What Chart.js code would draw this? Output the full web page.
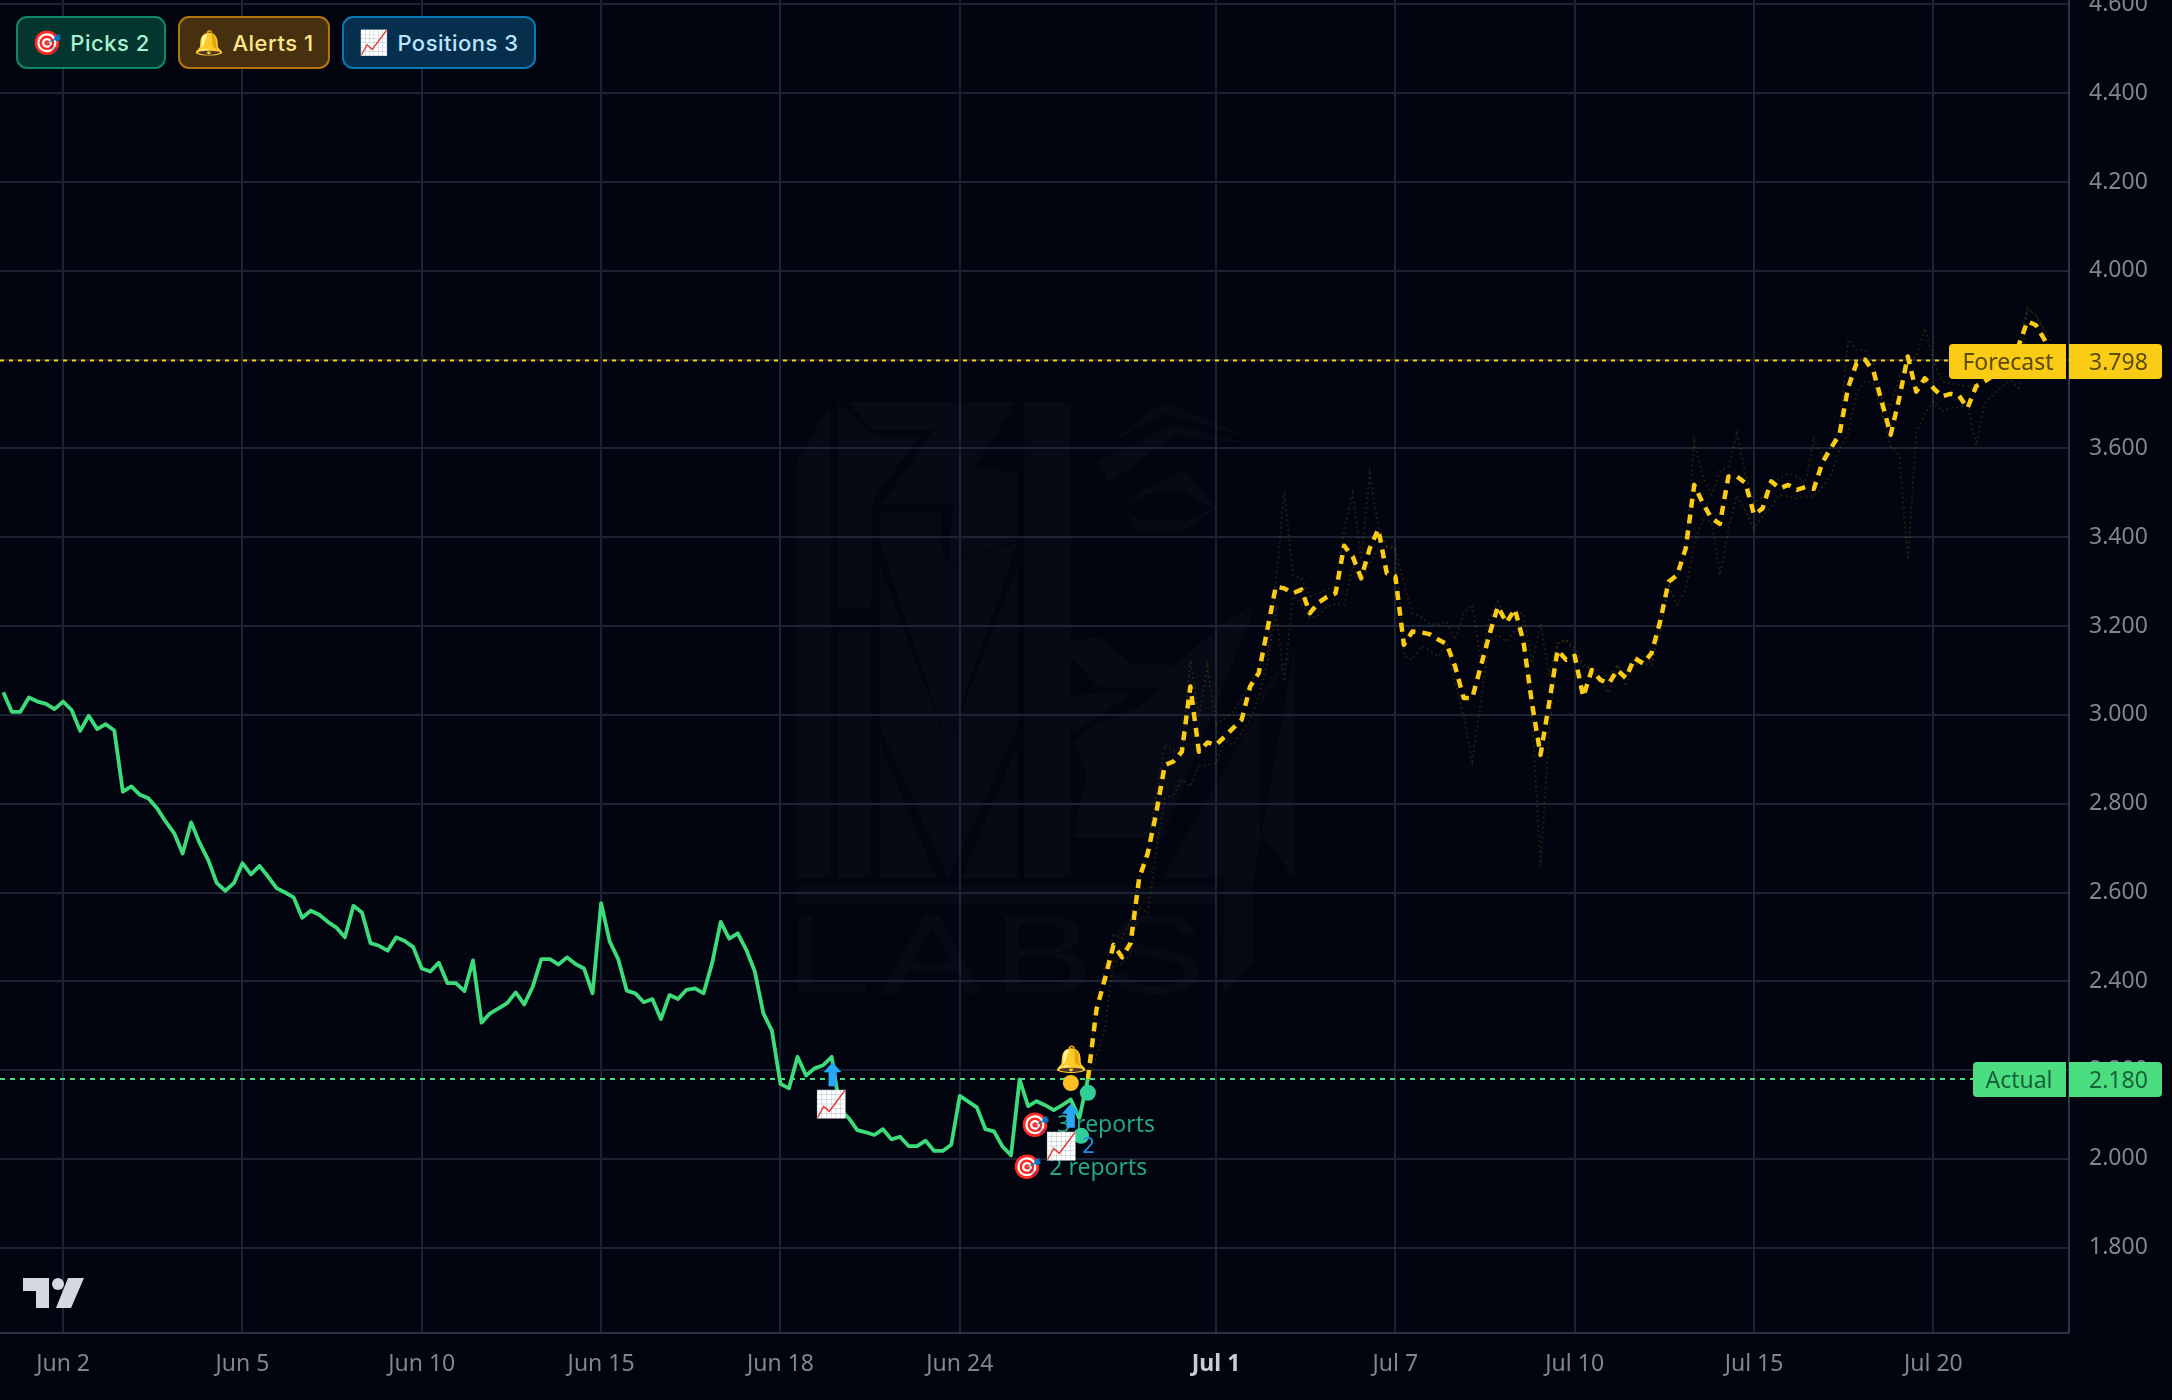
<!DOCTYPE html>
<html>
<head>
<meta charset="utf-8">
<title>Forecast chart</title>
<script src="https://cdn.jsdelivr.net/npm/chart.js@4/dist/chart.umd.min.js"></script>
<style>
    html, body { margin: 0; background: #020510; overflow: hidden; }
    #wrap { position: relative; width: 2172px; height: 1400px; }
    canvas { display: block; }
    .badge {
        position: absolute; top: 16px; height: 53px; box-sizing: border-box;
        border: 2px solid; border-radius: 11px;
        display: flex; align-items: center; justify-content: center; gap: 8px;
        font: 500 22px Inter, "Noto Sans", sans-serif; letter-spacing: 0.5px;
    }
    #badge-picks { left: 16px; width: 150px; background: #05352f; border-color: #0c8a62; color: #a7f3d0; }
    #badge-alerts { left: 178px; width: 152px; background: #47300f; border-color: #b4740f; color: #fde68a; }
    #badge-positions { left: 342px; width: 194px; background: #062f4e; border-color: #0a78b4; color: #bae6fd; }
    .badge span:first-child { font-size: 24px; letter-spacing: 0; }
</style>
</head>
<body>
<div id="wrap">
    <canvas id="chart" width="2172" height="1400"></canvas>
    <div class="badge" id="badge-picks"><span>🎯</span><span>Picks 2</span></div>
    <div class="badge" id="badge-alerts"><span>🔔</span><span>Alerts 1</span></div>
    <div class="badge" id="badge-positions"><span>📈</span><span>Positions 3</span></div>
</div>
<script>
// Price history, one value per bar
const actualValues = [
    3.051, 3.007, 3.007, 3.039, 3.030, 3.025, 3.013, 3.030, 3.011, 2.964,
    2.998, 2.968, 2.979, 2.965, 2.827, 2.839, 2.820, 2.812, 2.790, 2.760,
    2.734, 2.688, 2.758, 2.711, 2.673, 2.621, 2.604, 2.621, 2.666, 2.641,
    2.660, 2.636, 2.610, 2.600, 2.589, 2.543, 2.559, 2.550, 2.534, 2.521,
    2.499, 2.570, 2.555, 2.486, 2.480, 2.469, 2.499, 2.491, 2.477, 2.429,
    2.422, 2.442, 2.396, 2.396, 2.378, 2.447, 2.307, 2.328, 2.339, 2.351,
    2.375, 2.348, 2.388, 2.450, 2.450, 2.438, 2.454, 2.439, 2.429, 2.373,
    2.576, 2.490, 2.450, 2.379, 2.373, 2.353, 2.360, 2.315, 2.369, 2.360,
    2.381, 2.384, 2.373, 2.441, 2.534, 2.496, 2.508, 2.471, 2.422, 2.328,
    2.289, 2.169, 2.159, 2.230, 2.188, 2.204, 2.211, 2.230, 2.110, 2.092,
    2.065, 2.060, 2.054, 2.067, 2.044, 2.050, 2.029, 2.029, 2.041, 2.018,
    2.018, 2.032, 2.142, 2.129, 2.116, 2.067, 2.062, 2.028, 2.008, 2.179,
    2.119, 2.130, 2.121, 2.110, 2.121, 2.134, 2.092, 2.180
];

// Forecast starts on the last actual bar
const forecastStart = 127;
const forecastValues = [
    2.180, 2.336, 2.406, 2.482, 2.454, 2.486, 2.632, 2.688, 2.779, 2.887,
    2.895, 2.917, 3.064, 2.917, 2.938, 2.932, 2.951, 2.970, 2.989, 3.064,
    3.094, 3.191, 3.289, 3.285, 3.274, 3.282, 3.229, 3.253, 3.266, 3.274,
    3.381, 3.357, 3.308, 3.375, 3.418, 3.319, 3.312, 3.158, 3.188, 3.186,
    3.182, 3.170, 3.160, 3.109, 3.038, 3.038, 3.109, 3.180, 3.244, 3.208,
    3.238, 3.165, 3.026, 2.910, 3.026, 3.146, 3.124, 3.133, 3.041, 3.101,
    3.079, 3.071, 3.101, 3.083, 3.128, 3.116, 3.139, 3.210, 3.300, 3.315,
    3.375, 3.518, 3.477, 3.443, 3.430, 3.537, 3.537, 3.522, 3.451, 3.465,
    3.526, 3.510, 3.518, 3.507, 3.513, 3.509, 3.568, 3.601, 3.631, 3.736,
    3.792, 3.800, 3.773, 3.702, 3.631, 3.713, 3.807, 3.728, 3.758, 3.736,
    3.717, 3.723, 3.719, 3.691, 3.740, 3.751, 3.764, 3.777, 3.788, 3.833,
    3.886, 3.878, 3.845, 3.798
];
const forecastUpper = [
    2.180, 2.351, 2.433, 2.505, 2.497, 2.538, 2.628, 2.703, 2.816, 2.932,
    2.921, 2.906, 3.124, 2.996, 3.109, 2.977, 2.992, 3.007, 3.037, 3.071,
    3.109, 3.139, 3.297, 3.503, 3.315, 3.308, 3.267, 3.274, 3.282, 3.293,
    3.417, 3.499, 3.349, 3.544, 3.424, 3.379, 3.372, 3.297, 3.229, 3.221,
    3.206, 3.203, 3.210, 3.169, 3.229, 3.248, 3.124, 3.214, 3.255, 3.210,
    3.229, 3.229, 3.116, 3.206, 3.090, 3.161, 3.169, 3.139, 3.109, 3.109,
    3.098, 3.086, 3.112, 3.086, 3.131, 3.120, 3.120, 3.214, 3.289, 3.312,
    3.364, 3.616, 3.537, 3.496, 3.548, 3.559, 3.634, 3.541, 3.477, 3.492,
    3.518, 3.533, 3.544, 3.537, 3.522, 3.619, 3.582, 3.604, 3.642, 3.845,
    3.822, 3.822, 3.792, 3.709, 3.694, 3.762, 3.800, 3.807, 3.871, 3.800,
    3.751, 3.747, 3.743, 3.740, 3.747, 3.755, 3.770, 3.790, 3.800, 3.830,
    3.916, 3.900, 3.870, 3.830
];
const forecastLower = [
    2.180, 2.230, 2.294, 2.448, 2.437, 2.463, 2.568, 2.553, 2.696, 2.812,
    2.820, 2.854, 2.839, 2.884, 2.887, 2.891, 2.944, 2.932, 2.959, 2.989,
    3.041, 3.116, 3.236, 3.075, 3.267, 3.252, 3.218, 3.225, 3.244, 3.250,
    3.248, 3.334, 3.297, 3.342, 3.375, 3.379, 3.379, 3.135, 3.124, 3.154,
    3.146, 3.131, 3.161, 3.071, 2.996, 2.895, 3.026, 3.169, 3.180, 3.165,
    3.191, 3.184, 2.996, 2.658, 2.959, 3.161, 3.169, 3.150, 3.116, 3.101,
    3.079, 3.049, 3.109, 3.064, 3.116, 3.113, 3.113, 3.184, 3.289, 3.248,
    3.281, 3.387, 3.439, 3.435, 3.315, 3.417, 3.495, 3.458, 3.420, 3.447,
    3.469, 3.495, 3.492, 3.488, 3.492, 3.492, 3.514, 3.541, 3.597, 3.634,
    3.724, 3.751, 3.747, 3.679, 3.604, 3.586, 3.349, 3.634, 3.679, 3.706,
    3.683, 3.691, 3.694, 3.698, 3.608, 3.702, 3.721, 3.739, 3.754, 3.736,
    3.912, 3.900, 3.860, 3.800
];

// Axis ticks
const xTickBars = [7, 28, 49, 70, 91, 112, 142, 163, 184, 205, 226];
const xTickLabels = ['Jun 2', 'Jun 5', 'Jun 10', 'Jun 15', 'Jun 18', 'Jun 24', 'Jul 1', 'Jul 7', 'Jul 10', 'Jul 15', 'Jul 20'];
const yTickValues = [1.8, 2.0, 2.2, 2.4, 2.6, 2.8, 3.0, 3.2, 3.4, 3.6, 3.8, 4.0, 4.2, 4.4, 4.6];

// Last prices shown as tags on the price axis
const actualLast = 2.180;
const forecastLast = 3.798;

// Event markers as [bar, price]
const arrowMarks = [[97.1, 2.191], [125, 2.097]];
const positionMarks = [[96.9, 2.124], [123.9, 2.029]];
const pickMarks = [[120.8, 2.079, '3 reports'], [119.9, 1.984, '2 reports']];
const alertBell = [125, 2.227];
const alertDot = [125, 2.171];
const pickDots = [[127, 2.149], [126.2, 2.052]];

const toPoints = (values, start) => values.map((y, i) => ({ x: start + i, y }));

// Faint logo sitting behind the grid, outlines in page pixels
const logoShapes = [
    [48,175, 148,35, 148,1215, 48,1215],
    [168,30, 270,110, 405,115, 270,275, 265,545, 168,545],
    [200,30, 685,30, 565,195, 690,205, 690,375, 487,435, 502,285, 295,285, 445,100, 270,100],
    [290,305, 468,305, 468,380, 487,435, 690,380, 525,790, 487,885, 290,380],
    [168,600, 265,600, 265,1215, 168,1215],
    [290,440, 487,885, 690,440, 690,840, 490,1215, 290,840],
    [290,880, 455,1215, 290,1215],
    [690,885, 690,1215, 525,1215],
    [710,30, 845,30, 845,1215, 710,1215],
    [925,175, 1140,85, 1370,135, 1145,115, 955,230],
    [950,135, 1115,30, 1370,120, 1115,60],
    [845,625, 925,615, 1020,680, 1150,685, 1260,600, 1380,530, 1145,740, 925,740, 845,665],
    [845,760, 1030,750, 860,850, 845,835],
    [850,1115, 890,955, 855,880, 905,835, 1040,790, 1380,540, 1110,1115],
    [1395,1100, 1495,1215, 1495,640, 1395,760],
    [1110,1215, 1495,640, 1375,1215],
    [48,1235, 1265,1235, 1265,1280, 48,1280],
    [1285,1510, 1375,1420, 1375,1215, 1290,1215]
];
const logoEyeOuter = [1000,295, 1070,240, 1175,200, 1270,295, 1170,350, 1040,355];
const logoEyeInner = [1000,298, 1060,260, 1170,250, 1255,295, 1175,325, 1050,325];

function traceLogoShape(ctx, s) {
    ctx.moveTo(780 + s[0] / 2.904, 390 + s[1] / 2.489);
    for (let i = 2; i < s.length; i += 2) {
        ctx.lineTo(780 + s[i] / 2.904, 390 + s[i + 1] / 2.489);
    }
    ctx.closePath();
}

const backdropPlugin = {
    id: 'backdrop',
    beforeDraw(chart) {
        const ctx = chart.ctx;
        ctx.save();
        ctx.fillStyle = '#020510';
        ctx.fillRect(0, 0, chart.width, chart.height);
        ctx.fillStyle = 'rgba(255,255,255,0.024)';
        // one path so overlapping pieces do not add up
        ctx.beginPath();
        logoShapes.forEach(s => traceLogoShape(ctx, s));
        ctx.fill();
        ctx.beginPath();
        traceLogoShape(ctx, logoEyeOuter);
        traceLogoShape(ctx, logoEyeInner);
        ctx.fill('evenodd');

        ctx.translate(786, 993);
        ctx.scale(1.35, 1);
        ctx.font = '400 112px "Liberation Sans", sans-serif';
        ctx.letterSpacing = '8px';
        ctx.textBaseline = 'alphabetic';
        ctx.fillText('LABS', 0, 0);
        ctx.restore();
    }
};

// Up arrow used for position events
function drawArrow(ctx, x, y) {
    ctx.fillStyle = '#29a9f5';
    ctx.beginPath();
    ctx.moveTo(x, y - 12);
    ctx.lineTo(x + 9, y - 2);
    ctx.lineTo(x + 4, y - 2);
    ctx.lineTo(x + 4, y + 12);
    ctx.lineTo(x - 4, y + 12);
    ctx.lineTo(x - 4, y - 2);
    ctx.lineTo(x - 9, y - 2);
    ctx.closePath();
    ctx.fill();
}

function drawDot(ctx, x, y, color) {
    ctx.fillStyle = color;
    ctx.beginPath();
    ctx.arc(x, y, 8, 0, Math.PI * 2);
    ctx.fill();
}

const markersPlugin = {
    id: 'markers',
    afterDatasetsDraw(chart) {
        const { ctx, scales: { x, y } } = chart;
        const px = m => [x.getPixelForValue(m[0]), y.getPixelForValue(m[1])];
        ctx.save();
        ctx.textBaseline = 'middle';
        ctx.textAlign = 'center';

        pickMarks.forEach(m => {
            const [mx, my] = px(m);
            ctx.font = '400 23px "Noto Sans", sans-serif';
            ctx.fillStyle = '#26a582';
            ctx.textAlign = 'left';
            ctx.fillText(m[2], mx + 22, my + 2);
            ctx.textAlign = 'center';
            ctx.font = '400 24px "Noto Sans", sans-serif';
            ctx.fillStyle = '#fff';
            ctx.fillText('🎯', mx, my + 2);
        });
        pickDots.forEach(m => { const [mx, my] = px(m); drawDot(ctx, mx, my, '#2fcf97'); });
        positionMarks.forEach((m, i) => {
            const [mx, my] = px(m);
            ctx.font = '400 26px "Noto Sans", sans-serif';
            ctx.fillStyle = '#fff';
            ctx.fillText('📈', mx, my + 2);
            if (i === 1) {
                ctx.font = '400 22px "Noto Sans", sans-serif';
                ctx.fillStyle = '#1d8fe0';
                ctx.fillText('2', mx + 27, my + 1);
            }
        });
        arrowMarks.forEach(m => { const [mx, my] = px(m); drawArrow(ctx, mx, my); });

        const [dx, dy] = px(alertDot);
        drawDot(ctx, dx, dy, '#fbbf24');
        const [bx, by] = px(alertBell);
        ctx.font = '400 26px "Noto Sans", sans-serif';
        ctx.fillStyle = '#fff';
        ctx.fillText('🔔', bx, by + 2);
        ctx.restore();
    }
};

function roundedTag(ctx, x, y, w, h, radii, color) {
    ctx.fillStyle = color;
    ctx.beginPath();
    ctx.roundRect(x, y, w, h, radii);
    ctx.fill();
}

// Name and price tags on the right edge, TradingView logo bottom left
const overlayPlugin = {
    id: 'overlay',
    afterDraw(chart) {
        const { ctx, scales: { y } } = chart;
        ctx.save();
        ctx.textBaseline = 'middle';
        const tags = [
            { name: 'Forecast', value: forecastLast, left: 1949, nameX: 2008, bg: '#facc15', fg: '#5c4b0c' },
            { name: 'Actual', value: actualLast, left: 1973, nameX: 2019, bg: '#4ade80', fg: '#17603a' }
        ];
        tags.forEach(t => {
            const py = Math.round(y.getPixelForValue(t.value));
            roundedTag(ctx, t.left, py - 17, 2066 - t.left, 35, [4, 0, 0, 4], t.bg);
            roundedTag(ctx, 2069, py - 17, 93, 35, [0, 4, 4, 0], t.bg);
            ctx.font = '400 23px "Noto Sans", sans-serif';
            ctx.fillStyle = t.fg;
            ctx.textAlign = 'center';
            ctx.fillText(t.name, t.nameX, py + 2);
            ctx.textAlign = 'left';
            ctx.fillText(t.value.toFixed(3), 2089, py + 2);
        });

        ctx.fillStyle = '#d5d8e3';
        ctx.beginPath();
        ctx.moveTo(23, 1278); ctx.lineTo(49, 1278); ctx.lineTo(49, 1308); ctx.lineTo(36, 1308);
        ctx.lineTo(36, 1291); ctx.lineTo(23, 1291);
        ctx.closePath();
        ctx.fill();
        ctx.beginPath();
        ctx.arc(58, 1284, 6, 0, Math.PI * 2);
        ctx.fill();
        ctx.beginPath();
        ctx.moveTo(68, 1278); ctx.lineTo(84, 1278); ctx.lineTo(71, 1308); ctx.lineTo(56, 1308);
        ctx.closePath();
        ctx.fill();
        ctx.restore();
    }
};

// Initialize Chart
function initChart() {
    const ctx = document.getElementById('chart').getContext('2d');
    const barMin = -0.386;
    const barMax = 241.88;
    new Chart(ctx, {
        type: 'line',
        data: {
            datasets: [
                {
                    label: 'Forecast upper',
                    data: toPoints(forecastUpper, forecastStart),
                    borderColor: 'rgba(250,204,21,0.13)',
                    borderWidth: 2,
                    borderDash: [2, 3]
                },
                {
                    label: 'Forecast lower',
                    data: toPoints(forecastLower, forecastStart),
                    borderColor: 'rgba(250,204,21,0.13)',
                    borderWidth: 2,
                    borderDash: [2, 3]
                },
                {
                    label: 'Actual last',
                    data: [{ x: barMin, y: actualLast }, { x: barMax, y: actualLast }],
                    borderColor: '#4ade80',
                    borderWidth: 2,
                    borderDash: [5, 5]
                },
                {
                    label: 'Forecast last',
                    data: [{ x: barMin, y: forecastLast }, { x: barMax, y: forecastLast }],
                    borderColor: '#facc15',
                    borderWidth: 2,
                    borderDash: [4, 5]
                },
                {
                    label: 'Forecast',
                    data: toPoints(forecastValues, forecastStart),
                    borderColor: '#facc15',
                    borderWidth: 4.5,
                    borderDash: [9, 7],
                    borderJoinStyle: 'round'
                },
                {
                    label: 'Actual',
                    data: toPoints(actualValues, 0),
                    borderColor: '#3ddb7a',
                    borderWidth: 3.8,
                    borderJoinStyle: 'round'
                }
            ]
        },
        options: {
            responsive: false,
            animation: false,
            layout: { padding: 0 },
            elements: { point: { radius: 0 }, line: { tension: 0 } },
            plugins: { legend: { display: false }, tooltip: { enabled: false } },
            scales: {
                x: {
                    type: 'linear',
                    min: barMin,
                    max: barMax,
                    grid: { color: '#1c2332', lineWidth: 2, drawTicks: false },
                    border: { color: '#2a3242', width: 2 },
                    afterBuildTicks: scale => { scale.ticks = xTickBars.map(value => ({ value })); },
                    afterFit: scale => {
                        scale.height = 67;
                        scale.paddingLeft = 0;
                        scale.paddingRight = 0;
                    },
                    ticks: {
                        autoSkip: false,
                        maxRotation: 0,
                        padding: 18,
                        color: c => c.index === 6 ? '#c9ccd6' : '#80858f',
                        font: c => ({ family: '"Noto Sans"', size: 23, weight: c.index === 6 ? 'bold' : 'normal' }),
                        callback: (value, index) => xTickLabels[index]
                    }
                },
                y: {
                    type: 'linear',
                    position: 'right',
                    min: 1.608,
                    max: 4.61,
                    grid: { color: '#1c2332', lineWidth: 2, drawTicks: false },
                    border: { color: '#2e3646', width: 2 },
                    afterBuildTicks: scale => { scale.ticks = yTickValues.map(value => ({ value })); },
                    afterFit: scale => {
                        scale.width = 103;
                        scale.paddingTop = 0;
                        scale.paddingBottom = 0;
                    },
                    ticks: {
                        autoSkip: false,
                        padding: 20,
                        color: '#80858f',
                        font: { family: '"Noto Sans"', size: 23 },
                        callback: value => value.toFixed(3)
                    }
                }
            }
        },
        plugins: [backdropPlugin, markersPlugin, overlayPlugin]
    });
}

document.addEventListener('DOMContentLoaded', initChart);
</script>
</body>
</html>
